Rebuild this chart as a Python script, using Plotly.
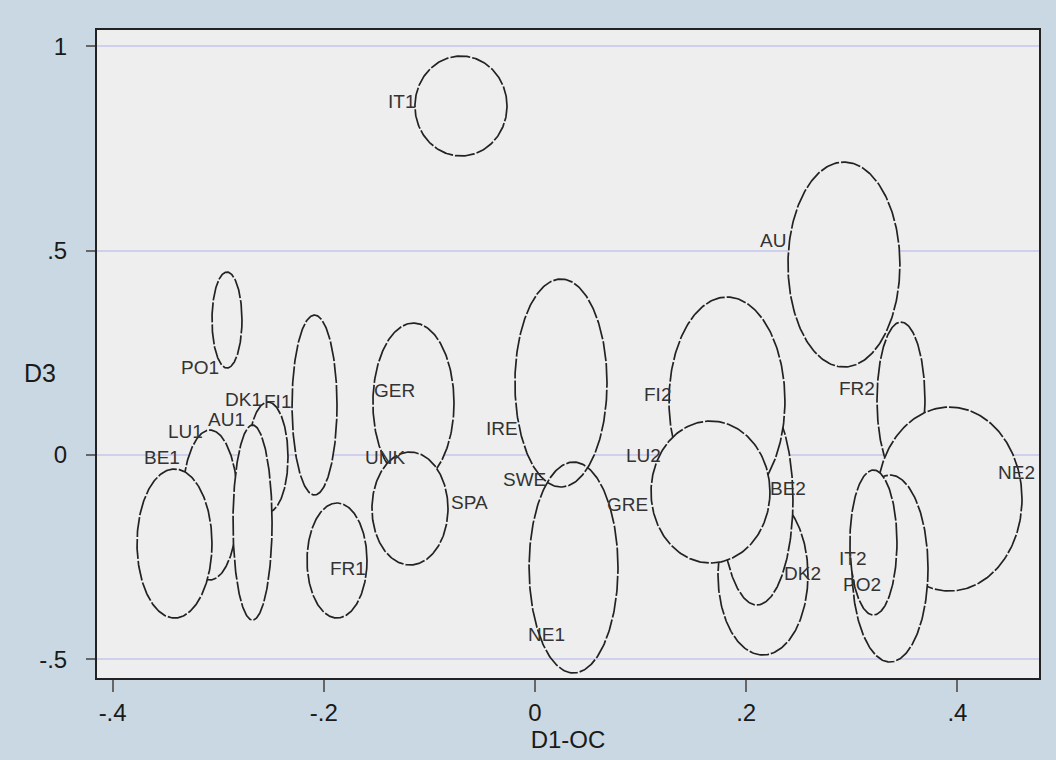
import numpy as np
import plotly.graph_objects as go

# ---- data (drawn in this order) ----
ell_name = ["IT1", "PO1", "FI1", "FR1", "LU1", "DK1", "AU1", "BE1", "GER", "SPA",
            "IRE", "NE1", "DK2", "BE2", "FI2", "LU2", "FR2", "AU", "NE2", "PO2", "IT2"]
ell_cx = [-0.0701, -0.2917, -0.2088, -0.1875, -0.3078, -0.2528, -0.2675, -0.3414, -0.1151, -0.1184,
          0.0246, 0.0365, 0.2159, 0.2102, 0.1818, 0.1662, 0.3466, 0.2926, 0.3925, 0.3362, 0.3205]
ell_cy = [0.854, 0.3303, 0.1223, -0.2581, -0.1223, -0.0049, -0.1652, -0.2165, 0.1272, -0.1309,
          0.1762, -0.2753, -0.2936, -0.1101, 0.1321, -0.0905, 0.1346, 0.4661, -0.1077, -0.2777, -0.2141]
ell_rx = [0.0436, 0.0142, 0.0213, 0.0284, 0.0265, 0.0189, 0.0185, 0.0355, 0.0384, 0.0360,
          0.0436, 0.0421, 0.0426, 0.0341, 0.0549, 0.0563, 0.0227, 0.0530, 0.0687, 0.0360, 0.0223]
ell_ry = [0.1223, 0.1174, 0.2202, 0.1407, 0.1835, 0.1346, 0.2386, 0.1823, 0.1957, 0.1382,
          0.2545, 0.2581, 0.1957, 0.2569, 0.2545, 0.1737, 0.1908, 0.2508, 0.2251, 0.2288, 0.1774]

lab_text = ["IT1", "AU", "PO1", "DK1", "FI1", "AU1", "LU1", "BE1", "FR1", "GER", "UNK", "SPA",
            "IRE", "SWE", "NE1", "GRE", "LU2", "FI2", "BE2", "DK2", "FR2", "NE2", "IT2", "PO2"]
lab_x = [-0.1117, 0.2396, -0.2973, -0.2570, -0.2292, -0.2725, -0.3125, -0.3343, -0.1581, -0.1117,
         -0.1212, -0.0426, -0.0142, 0.0123, 0.0303, 0.1089, 0.1212, 0.1307, 0.2585, 0.2727,
         0.3239, 0.4754, 0.3153, 0.3295]
lab_y = [0.864, 0.526, 0.213, 0.136, 0.132, 0.087, 0.058, -0.005, -0.2765, 0.159,
         -0.005, -0.115, 0.066, -0.061, -0.440, -0.122, 0.0, 0.147, -0.081, -0.289,
         0.164, -0.042, -0.252, -0.318]

x_ticks = [-0.4, -0.2, 0, 0.2, 0.4]
x_ticklabels = ["-.4", "-.2", "0", ".2", ".4"]
y_ticks = [-0.5, 0, 0.5, 1]
y_ticklabels = ["-.5", "0", ".5", "1"]

unfilled = {"NE1"}

PLOT_BG = "#eeeeee"
PAPER_BG = "#c9d8e2"
LINE = "#222222"
FONT = "Liberation Sans, Arial, sans-serif"

fig = go.Figure()
theta = np.linspace(0, 2 * np.pi, 241)
for n, cx, cy, rx, ry in zip(ell_name, ell_cx, ell_cy, ell_rx, ell_ry):
    xs = cx + rx * np.cos(theta)
    ys = cy + ry * np.sin(theta)
    fig.add_trace(go.Scatter(
        x=xs, y=ys, mode="lines",
        line=dict(color=LINE, width=1.7, dash="20px,2px"),
        fill="none" if n in unfilled else "toself",
        fillcolor=PLOT_BG,
        hoverinfo="skip", showlegend=False, name=n,
    ))

for t, x, y in zip(lab_text, lab_x, lab_y):
    fig.add_annotation(x=x, y=y, xref="x", yref="y", text=t, showarrow=False,
                       xanchor="right", yanchor="middle",
                       font=dict(family=FONT, size=19, color="#333333"))

fig.add_annotation(x=-0.06, y=0.2, xref="paper", yref="y", text="D3", showarrow=False,
                   xanchor="center", yanchor="middle",
                   font=dict(family=FONT, size=25, color="#1a1a1a"))

fig.update_xaxes(range=[-0.4148, 0.4773], tickvals=x_ticks, ticktext=x_ticklabels,
                 showgrid=False, zeroline=False, showline=True, mirror=True,
                 linecolor="#222222", linewidth=2, ticks="outside", ticklen=12,
                 tickcolor="#666666", tickwidth=1.5,
                 tickfont=dict(family=FONT, size=24, color="#1a1a1a"),
                 title=dict(text="D1-OC", standoff=4,
                            font=dict(family=FONT, size=24, color="#1a1a1a")))
fig.update_yaxes(range=[-0.5456, 1.040], tickvals=y_ticks, ticktext=y_ticklabels,
                 showgrid=True, gridcolor="#cfcfee", gridwidth=2, zeroline=False,
                 showline=True, mirror=True, linecolor="#222222", linewidth=2,
                 ticks="outside", ticklen=9, tickcolor="#666666", tickwidth=1.5,
                 ticklabelstandoff=14,
                 tickfont=dict(family=FONT, size=24, color="#1a1a1a"))

fig.update_layout(width=1056, height=760,
                  margin=dict(l=97, r=17, t=30, b=82),
                  paper_bgcolor=PAPER_BG, plot_bgcolor=PLOT_BG,
                  showlegend=False)

fig.write_html("out.html")
